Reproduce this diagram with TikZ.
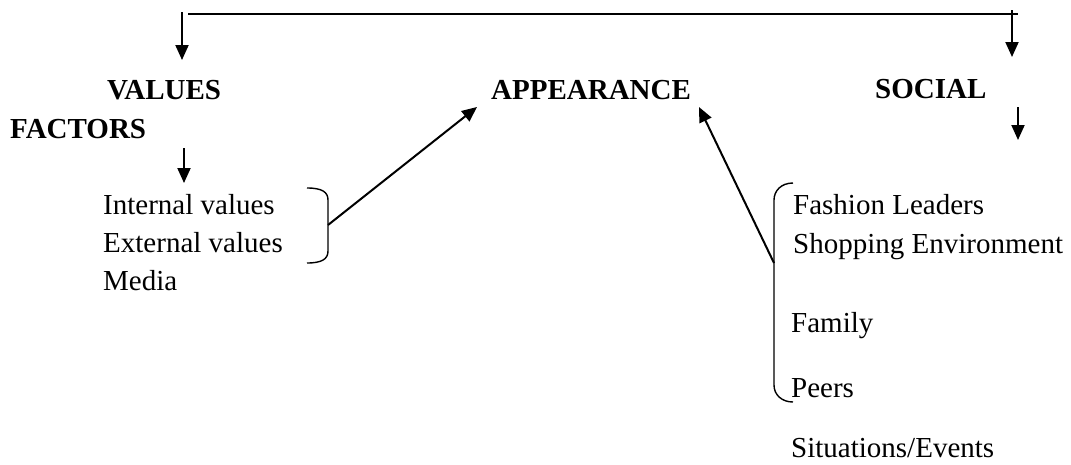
\documentclass[tikz,border=0pt]{standalone}
\usepackage{fontspec}
\setmainfont{Liberation Serif}
\usetikzlibrary{arrows.meta}
\tikzset{
  lbl/.style={anchor=base west, inner sep=0pt, font=\fontsize{29}{34}\selectfont},
  head/.style={lbl, font=\fontsize{29}{34}\selectfont\bfseries},
  arr/.style={line width=2pt, -{Triangle[width=13pt,length=15pt]}},
  plain/.style={line width=2pt},
  brace/.style={line width=1.4pt}
}
\begin{document}
\begin{tikzpicture}[x=1pt,y=-1pt]
\useasboundingbox (0,0) rectangle (1071,464);
% headings
\node[head] (values) at (107,99) {VALUES};
\node[head] (factors) at (10,138) {FACTORS};
\node[head] (appearance) at (491,99) {APPEARANCE};
\node[head] (social) at (875,98) {SOCIAL};
% left list
\node[lbl] (int) at (103,214) {Internal values};
\node[lbl] (ext) at (103,252) {External values};
\node[lbl] (media) at (103,290) {Media};
% right list
\node[lbl] (fashion) at (793,214) {Fashion Leaders};
\node[lbl] (shopping) at (793,253) {Shopping Environment};
\node[lbl] (family) at (791,332) {Family};
\node[lbl] (peers) at (791,397) {Peers};
\node[lbl] (situations) at (791,457) {Situations/Events};
% coordinates
\coordinate (tlTop) at (182,12);
\coordinate (tlTip) at (182,60);
\coordinate (hStart) at (188,14);
\coordinate (hEnd) at (1018,14);
\coordinate (trTop) at (1012,10);
\coordinate (trTip) at (1012,57);
\coordinate (sTop) at (1018,107);
\coordinate (sTip) at (1018,140);
\coordinate (fTop) at (184,148);
\coordinate (fTip) at (184,183);
\coordinate (lbMid) at (328,225);
\coordinate (rbMid) at (774,263);
\coordinate (apL) at (477,107);
\coordinate (apR) at (699,107);
% top connectors
\draw[plain] (hStart) -- (hEnd);
\draw[arr] (tlTop) -- (tlTip);
\draw[arr] (trTop) -- (trTip);
\draw[arr] (sTop) -- (sTip);
\draw[arr] (fTop) -- (fTip);
% brackets
\draw[brace] (307,188) .. controls (322,188) and (328,192) .. (328,200) -- (328,251) .. controls (328,259) and (322,263) .. (307,263);
\draw[brace] (793,183) .. controls (781,183) and (774,191) .. (774,200) -- (774,385) .. controls (774,395) and (782,402) .. (793,402);
% arrows to appearance
\draw[arr] (lbMid) -- (apL);
\draw[arr] (rbMid) -- (apR);
\end{tikzpicture}
\end{document}
